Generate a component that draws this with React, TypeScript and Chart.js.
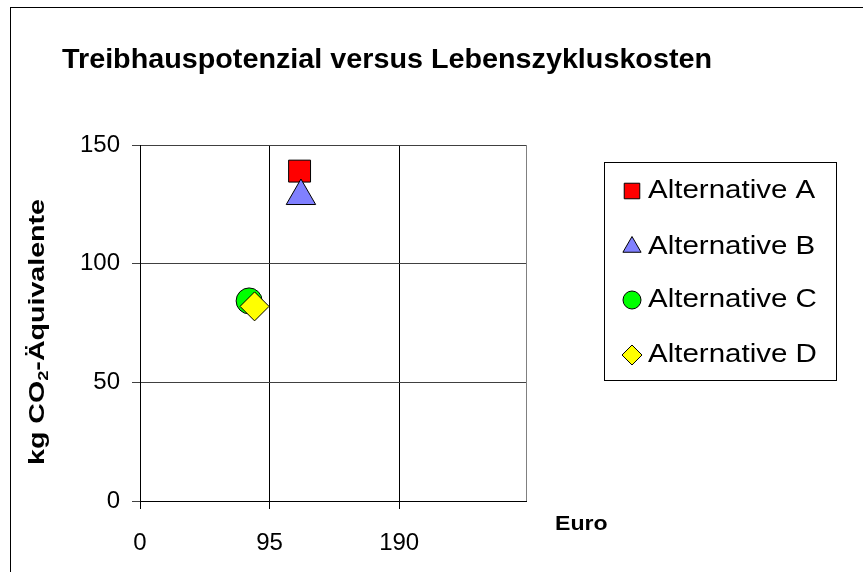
import React, { useEffect, useRef } from "react";
import { Chart, registerables } from "chart.js";
import { drawPoint } from "chart.js/helpers";

Chart.register(...registerables);

const categories = ["Alternative A", "Alternative B", "Alternative C", "Alternative D"];
const euroValues = [117, 118, 80, 84];
const co2Values = [139, 128.5, 84.3, 82];
const xTickValues = [0, 95, 190];
const yTickValues = [0, 50, 100, 150];
const titleText = "Treibhauspotenzial versus Lebenszykluskosten";
const xTitleText = "Euro";
const yTitleParts = ["kg CO", "2", "-Äquivalente"];

const colors = ["#ff0000", "#8080ff", "#00ff00", "#ffff00"];
const pointStyles = ["rect", "triangle", "circle", "rectRot"];
const radii = [15.5, 17, 13, 14.5];
const legendRadii = [11, 10.5, 9, 10];

const FONT = "'Liberation Sans', Arial, sans-serif";

function fillStretched(ctx: CanvasRenderingContext2D, text: string, x: number, y: number, sx: number) {
  ctx.save();
  ctx.translate(x, y);
  ctx.scale(sx, 1);
  ctx.fillText(text, 0, 0);
  ctx.restore();
}

const decorPlugin = {
  id: "decor",
  beforeDraw(chart: any) {
    const ctx = chart.ctx;
    ctx.save();
    ctx.fillStyle = "#fff";
    ctx.fillRect(0, 0, chart.width, chart.height);
    ctx.restore();
  },
  afterDraw(chart: any) {
    const ctx: CanvasRenderingContext2D = chart.ctx;
    const ca = chart.chartArea;
    ctx.save();
    // outer frame
    ctx.strokeStyle = "#000";
    ctx.lineWidth = 1;
    ctx.strokeRect(10.5, 7.5, 1000, 1000);
    // plot right border
    ctx.strokeStyle = "#808080";
    ctx.beginPath();
    ctx.moveTo(Math.round(ca.right) + 0.5, ca.top);
    ctx.lineTo(Math.round(ca.right) + 0.5, ca.bottom);
    ctx.stroke();
    // title
    ctx.fillStyle = "#000";
    ctx.textBaseline = "middle";
    ctx.textAlign = "left";
    ctx.font = `bold 27.5px ${FONT}`;
    fillStretched(ctx, titleText, 62, 60, 1.045);
    // x title
    ctx.font = `bold 21px ${FONT}`;
    fillStretched(ctx, xTitleText, 555, 524, 1.1);
    // y title (rotated, with subscript)
    ctx.save();
    ctx.translate(38, 332);
    ctx.rotate(-Math.PI / 2);
    ctx.scale(1.3, 1);
    ctx.font = `bold 22px ${FONT}`;
    const w0 = ctx.measureText(yTitleParts[0]).width;
    ctx.font = `bold 14px ${FONT}`;
    const w1 = ctx.measureText(yTitleParts[1]).width;
    ctx.font = `bold 22px ${FONT}`;
    const w2 = ctx.measureText(yTitleParts[2]).width;
    let x = -(w0 + w1 + w2) / 2;
    ctx.fillText(yTitleParts[0], x, 0);
    x += w0;
    ctx.font = `bold 14px ${FONT}`;
    ctx.fillText(yTitleParts[1], x, 6);
    x += w1;
    ctx.font = `bold 22px ${FONT}`;
    ctx.fillText(yTitleParts[2], x, 0);
    ctx.restore();
    // legend
    const lx = 604, ly = 162, lw = 232, lh = 218;
    ctx.fillStyle = "#fff";
    ctx.fillRect(lx, ly, lw, lh);
    ctx.strokeStyle = "#000";
    ctx.strokeRect(lx + 0.5, ly + 0.5, lw, lh);
    const rows = [191, 247, 300, 355];
    categories.forEach((name, i) => {
      ctx.fillStyle = colors[i];
      ctx.strokeStyle = "#000";
      ctx.lineWidth = 1;
      drawPoint(ctx, { pointStyle: pointStyles[i], radius: legendRadii[i], borderWidth: 1, rotation: 0 } as any, 632, rows[i]);
      ctx.fillStyle = "#000";
      ctx.font = `25px ${FONT}`;
      ctx.textAlign = "left";
      ctx.textBaseline = "middle";
      fillStretched(ctx, name, 648, rows[i], 1.18);
    });
    ctx.restore();
  },
};

export default function App() {
  const ref = useRef<HTMLCanvasElement>(null);
  useEffect(() => {
    const canvas = ref.current!;
    const chart = new Chart(canvas, {
      type: "scatter",
      data: {
        datasets: categories.map((name, i) => ({
          label: name,
          data: [{ x: euroValues[i], y: co2Values[i] }],
          pointStyle: pointStyles[i] as any,
          pointRadius: radii[i],
          pointHoverRadius: radii[i],
          backgroundColor: colors[i],
          borderColor: "#000",
          borderWidth: 1,
          order: categories.length - i,
        })),
      },
      plugins: [decorPlugin],
      options: {
        responsive: false,
        animation: false,
        devicePixelRatio: 1,
        layout: { padding: { left: 80, top: 145, right: 337, bottom: 21 } },
        plugins: { legend: { display: false }, tooltip: { enabled: false }, title: { display: false } },
        scales: {
          x: {
            type: "linear",
            min: 0,
            max: 283,
            afterBuildTicks: (s: any) => {
              s.ticks = xTickValues.map((v) => ({ value: v }));
            },
            afterFit: (s: any) => {
              s.height = 50;
            },
            grid: { color: "#000", tickLength: 8, drawTicks: true },
            border: { color: "#000", width: 1 },
            ticks: { color: "#000", font: { family: FONT, size: 24 }, padding: 20, maxRotation: 0 },
          },
          y: {
            type: "linear",
            min: 0,
            max: 150,
            afterBuildTicks: (s: any) => {
              s.ticks = yTickValues.map((v) => ({ value: v }));
            },
            afterFit: (s: any) => {
              s.width = 60;
            },
            grid: { color: "#404040", tickLength: 8, drawTicks: true },
            border: { color: "#000", width: 1 },
            ticks: { color: "#000", font: { family: FONT, size: 24 }, padding: 12 },
          },
        },
      },
    });
    return () => chart.destroy();
  }, []);
  return (
    <div style={{ position: "absolute", left: 0, top: 0, width: 863, height: 572 }}>
      <canvas ref={ref} width={863} height={572} style={{ display: "block" }} />
    </div>
  );
}
